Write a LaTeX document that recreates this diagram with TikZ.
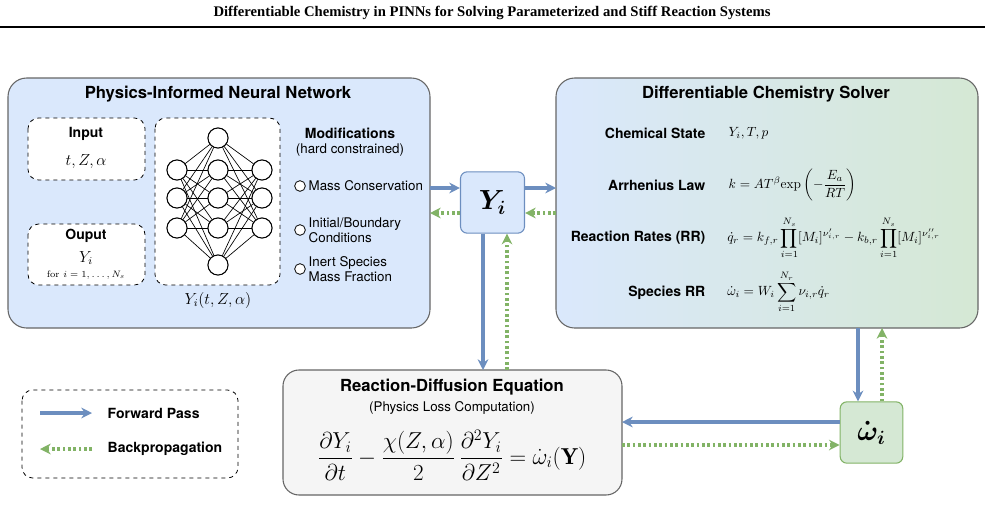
\documentclass[tikz,border=0pt]{standalone}
\usepackage{amsmath}
\usepackage{fontspec}
\setsansfont{TeX Gyre Heros}
\newfontfamily\titlefont{Liberation Serif}
\usetikzlibrary{arrows.meta,shadings}
\definecolor{lblue}{HTML}{DAE8FC}
\definecolor{lgreen}{HTML}{D5E8D4}
\definecolor{fwd}{HTML}{6C8EBF}
\definecolor{bwd}{HTML}{82B366}
\definecolor{lgray}{HTML}{F5F5F5}
\definecolor{bd}{HTML}{666666}
\begin{document}
\begin{tikzpicture}[x=0.75pt,y=-0.75pt,
  panel/.style={draw=bd,line width=0.8pt,rounded corners=14pt},
  dbox/.style={draw=black,dashed,line width=0.6pt,rounded corners=8pt,fill=white},
  neuron/.style={draw=black,circle,minimum size=20pt*0.75,inner sep=0,line width=0.7pt,fill=white},
  hd/.style={font=\sffamily\bfseries\fontsize{12.5}{14}\selectfont},
  sh/.style={font=\sffamily\bfseries\fontsize{10.5}{12}\selectfont},
  st/.style={font=\sffamily\fontsize{10}{11.5}\selectfont,align=left},
  fw/.style={-{Stealth[length=8pt,width=8pt]},draw=fwd,line width=2.4pt},
  bw/.style={-{Stealth[length=8pt,width=8pt]},draw=bwd,line width=2.4pt,dash pattern=on 2pt off 2pt},
  mcirc/.style={draw=black,circle,minimum size=8pt,inner sep=0,line width=0.6pt,fill=white}]
\useasboundingbox (0,0) rectangle (985,504);
\node[font=\titlefont\bfseries\fontsize{11}{12}\selectfont] (title) at (492,13) {Differentiable Chemistry in PINNs for Solving Parameterized and Stiff Reaction Systems};
\draw[line width=0.8pt] (0,27) -- (985,27);
% PINN panel
\draw[panel,fill=lblue] (8,78) rectangle (430,328);
\node[hd] (pt) at (218,94) {Physics-Informed Neural Network};
\draw[dbox] (28,118) rectangle (145,180);
\node[sh] (in) at (86,134) {Input};
\node (inv) at (86,162) {\large $t, Z, \alpha$};
\draw[dbox] (28,224) rectangle (145,285);
\node[sh] (out) at (86,236) {Ouput};
\node (outv) at (86,258) {\large $Y_i$};
\node[font=\fontsize{7}{8}\selectfont] (outf) at (86,275) {for $i=1,\ldots,N_s$};
\draw[dbox] (155,118) rectangle (280,285);
\foreach \y [count=\k] in {170,198,228} {\node[neuron] (a\k) at (177,\y) {};\node[neuron] (c\k) at (262,\y) {};}
\foreach \y [count=\k] in {138,170,198,228,265} \node[neuron] (b\k) at (218,\y) {};
\foreach \i in {1,2,3} \foreach \j in {1,...,5} {\draw[line width=0.5pt] (a\i) -- (b\j); \draw[line width=0.5pt] (b\j) -- (c\i);}
\foreach \y [count=\k] in {170,198,228} {\node[neuron] at (177,\y) {};\node[neuron] at (262,\y) {};}
\foreach \y [count=\k] in {138,170,198,228,265} \node[neuron] at (218,\y) {};
\node (nnl) at (218,300) {\large $Y_i(t, Z, \alpha)$};
\node[sh] (mod) at (350,133) {Modifications};
\node[st] (modh) at (350,150) {(hard constrained)};
\node[mcirc] (m1) at (300,186) {};
\node[st,anchor=west] (m1t) at (304,186) {Mass Conservation};
\node[mcirc] (m2) at (300,230) {};
\node[st,anchor=west] (m2t) at (304,230) {Initial/Boundary\\Conditions};
\node[mcirc] (m3) at (300,269) {};
\node[st,anchor=west] (m3t) at (304,269) {Inert Species\\Mass Fraction};
% Yi box
\node[draw=fwd,fill=lblue,rounded corners=5pt,line width=0.8pt,minimum width=48pt,minimum height=46pt] (Y) at (492.5,202.5) {\huge $\boldsymbol{Y_i}$};
% Solver panel
\draw[panel,left color=lblue,right color=lgreen] (556,78) rectangle (978,328);
\node[hd] (st) at (766,94) {Differentiable Chemistry Solver};
\node[sh,anchor=east] (l1) at (710,133) {Chemical State};
\node[anchor=west] (f1) at (724,133) {$Y_i, T, p$};
\node[sh,anchor=east] (l2) at (710,185) {Arrhenius Law};
\node[anchor=west] (f2) at (724,185) {$k = AT^{\beta}\mathrm{exp}\left(-\dfrac{E_a}{RT}\right)$};
\node[sh,anchor=east] (l3) at (710,238) {Reaction Rates (RR)};
\node[anchor=west,inner sep=0] (f3) at (727,238) {$\dot q_r = k_{f,r}\displaystyle\prod_{i=1}^{N_s}[M_i]^{\nu'_{i,r}} - k_{b,r}\prod_{i=1}^{N_s}[M_i]^{\nu''_{i,r}}$};
\node[sh,anchor=east] (l4) at (710,293) {Species RR};
\node[anchor=west,inner sep=0] (f4) at (727,292) {$\dot\omega_i = W_i\displaystyle\sum_{i=1}^{N_r}\nu_{i,r}\dot q_r$};
% RD box
\draw[draw=bd,line width=0.8pt,rounded corners=12pt,fill=lgray] (283,370) rectangle (622,495);
\node[hd] (rdt) at (452,387) {Reaction-Diffusion Equation};
\node[font=\sffamily\fontsize{10}{11}\selectfont] (rds) at (452,408) {(Physics Loss Computation)};
\node (rde) at (452,455) {\LARGE $\dfrac{\partial Y_i}{\partial t} - \dfrac{\chi(Z,\alpha)}{2}\,\dfrac{\partial^2 Y_i}{\partial Z^2} = \dot\omega_i(\mathbf{Y})$};
% omega box
\node[draw=bwd,fill=lgreen,rounded corners=5pt,line width=0.8pt,minimum width=47pt,minimum height=46pt] (W) at (871.5,432.5) {\huge $\boldsymbol{\dot\omega_i}$};
% legend
\draw[dbox] (22,390) rectangle (238,478);
\coordinate (la1) at (40,413); \coordinate (la2) at (92,413);
\coordinate (lb1) at (92,449); \coordinate (lb2) at (40,449);
\draw[fw] (la1) -- (la2);
\draw[bw] (lb1) -- (lb2);
\node[sh,anchor=west] (lf) at (103,413) {Forward Pass};
\node[sh,anchor=west] (lbk) at (103,449) {Backpropagation};
% arrows
\draw[fw] (430,188) -- (Y.west|-0,188);
\draw[bw] (Y.west|-0,213) -- (430,213);
\draw[fw] (Y.east|-0,188) -- (556,188);
\draw[bw] (556,213) -- (Y.east|-0,213);
\draw[fw] (Y.south-|483,0) -- (483,370);
\draw[bw] (507,370) -- (Y.south-|507,0);
\draw[fw] (858,328) -- (W.north-|858,0);
\draw[bw] (W.north-|882,0) -- (882,328);
\draw[fw] (W.west|-0,422) -- (622,422);
\draw[bw] (622,445) -- (W.west|-0,445);
\end{tikzpicture}
\end{document}
